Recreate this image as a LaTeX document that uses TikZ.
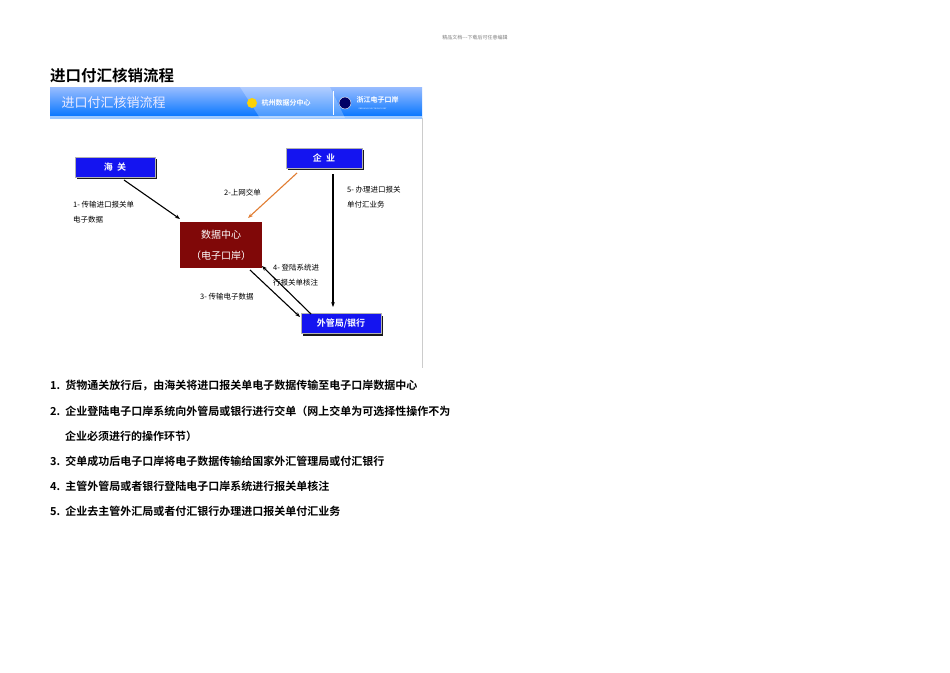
\documentclass[tikz,border=0pt]{standalone}
\usepackage{fontspec}
\setmainfont{Liberation Serif}
\newfontfamily\cjk{Noto Sans CJK SC}
\newfontfamily\cjkb{Noto Sans CJK SC Bold}
\usetikzlibrary{arrows.meta,shadows}
\definecolor{boxblue}{RGB}{20,20,240}
\definecolor{dred}{RGB}{128,8,8}
\definecolor{orng}{RGB}{225,125,50}
\tikzset{
 bluebox/.style={draw=gray!60,fill=boxblue,text=white,font=\cjkb\fontsize{9}{10}\selectfont,inner sep=0pt,minimum height=20pt,
   drop shadow={shadow xshift=2pt,shadow yshift=-2pt,fill=black,opacity=0.9}},
 lbl/.style={font=\cjk\fontsize{7.5}{15}\selectfont,anchor=west,align=left,inner sep=0pt},
 arr/.style={-{Stealth[length=5pt]},line width=1.1pt},
 item/.style={font=\cjkb\fontsize{11}{12}\selectfont,anchor=west,inner sep=0pt}
}
\begin{document}
\begin{tikzpicture}[x=1pt,y=-1pt]
\useasboundingbox (0,0) rectangle (950,672);
\fill[white] (0,0) rectangle (950,672);
\node[font=\cjk\fontsize{5}{6}\selectfont,text=gray] (hdr) at (475,38) {精品文档---下载后可任意编辑};
\node[font=\cjkb\fontsize{15.5}{17}\selectfont,anchor=west,inner sep=0pt] (title) at (50,76) {进口付汇核销流程};
% picture
\shade[top color=cyan!35!blue!40!white,bottom color=blue!55!cyan] (50,87) rectangle (422,118);
\fill[white,opacity=0.6] (50,116) rectangle (422,119);
\node[font=\cjk\fontsize{13}{14}\selectfont,text=white!92!blue,anchor=west] (bt) at (58,103) {进口付汇核销流程};
\fill[white,opacity=0.25] (240,87) -- (330,87) -- (345,118) -- (260,118) -- cycle;
\fill[yellow!70!orange] (252,103) circle (5);
\node[font=\cjkb\fontsize{7}{8}\selectfont,text=white,anchor=west] (lg1) at (258,103) {杭州数据分中心};
\draw[white] (333,91) -- (333,115);
\draw[white,fill=blue!40!black] (345,103) circle (6);
\node[font=\cjkb\fontsize{7}{8}\selectfont,text=white,anchor=west] (lg2) at (353,100) {浙江电子口岸};
\node[font=\fontsize{2}{3}\selectfont,text=white,anchor=west] (lg3) at (355,109) {ZHEJIANG ELECTRONIC PORT};
\draw[gray!40] (422,118) -- (422,368);
% boxes
\node[bluebox,minimum width=80pt] (hg) at (115,167) {海\ \ 关};
\node[bluebox,minimum width=76pt] (qy) at (324,158) {企\ \ 业};
\node[bluebox,minimum width=80pt] (wg) at (341,323.5) {外管局/银行};
\node[fill=dred,text=white,font=\cjk\fontsize{10}{21}\selectfont,align=center,minimum width=82pt,minimum height=46pt,inner sep=0pt] (dc) at (221,245) {数据中心\\（电子口岸）};
% arrows
\coordinate (a1s) at (124,180); \coordinate (a1e) at (180,219);
\draw[arr] (a1s) -- (a1e);
\coordinate (a2s) at (297,173); \coordinate (a2e) at (248,218);
\draw[arr,orng] (a2s) -- (a2e);
\coordinate (a5s) at (333,174); \coordinate (a5e) at (333,307);
\draw[arr] (a5s) -- (a5e);
\coordinate (a3s) at (250,270); \coordinate (a3e) at (300,317);
\draw[arr] (a3s) -- (a3e);
\coordinate (a4s) at (311,314); \coordinate (a4e) at (262,266);
\draw[arr] (a4s) -- (a4e);
% labels
\node[lbl] (l1) at (73,212) {1- 传输进口报关单\\电子数据};
\node[lbl] (l2) at (224,193) {2-上网交单};
\node[lbl] (l5) at (347,197) {5- 办理进口报关\\单付汇业务};
\node[lbl] (l4) at (273,275) {4- 登陆系统进\\行报关单核注};
\node[lbl] (l3) at (200,297) {3- 传输电子数据};
% list
\node[item] (i1) at (50,386) {1.\ \ 货物通关放行后，由海关将进口报关单电子数据传输至电子口岸数据中心};
\node[item] (i2) at (50,411) {2.\ \ 企业登陆电子口岸系统向外管局或银行进行交单（网上交单为可选择性操作不为};
\node[item] (i2b) at (65,436) {企业必须进行的操作环节）};
\node[item] (i3) at (50,461) {3.\ \ 交单成功后电子口岸将电子数据传输给国家外汇管理局或付汇银行};
\node[item] (i4) at (50,486) {4.\ \ 主管外管局或者银行登陆电子口岸系统进行报关单核注};
\node[item] (i5) at (50,511) {5.\ \ 企业去主管外汇局或者付汇银行办理进口报关单付汇业务};
\end{tikzpicture}
\end{document}
